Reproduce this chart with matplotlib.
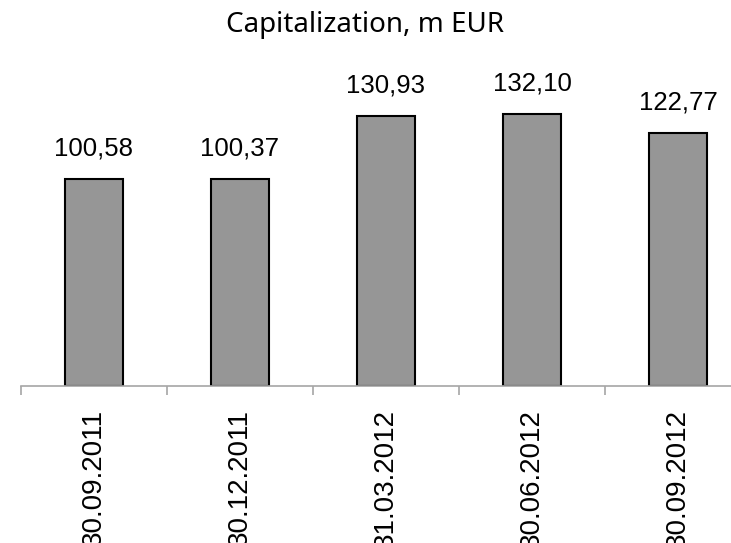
import numpy as np
import matplotlib
matplotlib.use("Agg")
import matplotlib.pyplot as plt

# data
dates = ["30.09.2011", "30.12.2011", "31.03.2012", "30.06.2012", "30.09.2012"]
capitalization = [100.58, 100.37, 130.93, 132.10, 122.77]
title = "Capitalization, m EUR"

W, H = 731, 543
fig = plt.figure(figsize=(W / 100, H / 100), dpi=100)

# axes spans 730 px for 5 categories, right end runs past the figure edge
ax = fig.add_axes([21 / W, 157 / H, 730 / W, 309 / H])
x = np.arange(len(dates))
ax.bar(x, capitalization, width=0.40, color="#969696", edgecolor="black", linewidth=1.5, zorder=2)

for xi, v in zip(x, capitalization):
    ax.annotate(f"{v:.2f}".replace(".", ","), (xi, v), xytext=(0, 13.5), textcoords="offset points",
                ha="center", va="bottom", fontsize=18.5, family="Liberation Sans")

ax.set_xlim(-0.5, len(dates) - 0.5)
ax.set_ylim(0, 150)
for s in ["top", "right", "left"]:
    ax.spines[s].set_visible(False)
ax.spines["bottom"].set_color("#a6a6a6")
ax.spines["bottom"].set_linewidth(1.2)
ax.set_yticks([])

ax.set_xticks(x)
ax.set_xticklabels(dates, rotation=90, fontsize=20, family="Liberation Sans")
ax.tick_params(axis="x", which="major", length=0, pad=16.5)
ax.set_xticks(np.arange(len(dates) + 1) - 0.5, minor=True)
ax.tick_params(axis="x", which="minor", length=6.5, width=1.2, color="#a6a6a6", direction="out")

fig.text(0.5, 1 - 25 / H, title, ha="center", va="center", fontsize=20, family="Noto Sans")

fig.savefig("out.png", dpi=100)
